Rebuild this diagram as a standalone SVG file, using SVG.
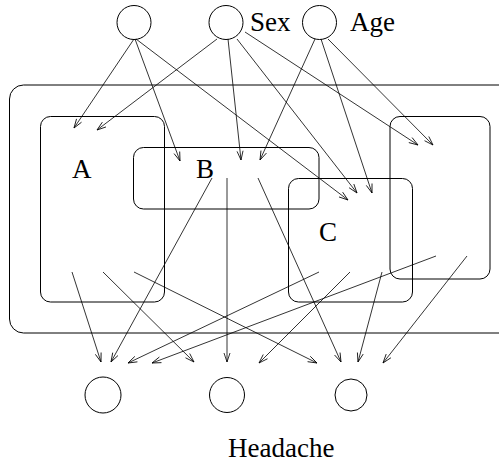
<svg xmlns="http://www.w3.org/2000/svg" width="499" height="462" viewBox="0 0 499 462">
<style>
.n{fill:none;stroke:#000;stroke-width:1}
.b{fill:none;stroke:#000;stroke-width:1}
.e{fill:none;stroke:#000;stroke-width:0.8;marker-end:url(#ah)}
.t{font-family:"Liberation Serif","Times New Roman",serif;font-size:27px;fill:#000}
</style>
<defs>
<marker id="ah" markerUnits="userSpaceOnUse" markerWidth="12" markerHeight="10" viewBox="-10 -5 12 10" refX="0" refY="0" orient="auto">
<path d="M-9,-3 L0,0 L-9,3" fill="none" stroke="#000" stroke-width="0.8"/>
</marker>
</defs>
<rect width="499" height="462" fill="#fff"/>
<g id="outer"><rect class="b" x="9.5" y="85" width="510" height="248" rx="14"/></g>
<g id="A"><rect class="b" x="40.5" y="116.5" width="124" height="185.5" rx="10"/><text class="t" x="72" y="178">A</text></g>
<g id="B"><rect class="b" x="133.5" y="147.5" width="185.5" height="61.5" rx="10"/><text class="t" x="196" y="178">B</text></g>
<g id="C"><rect class="b" x="288.5" y="178.5" width="124" height="123.5" rx="10"/><text class="t" x="319" y="241">C</text></g>
<g id="D"><rect class="b" x="390" y="116.5" width="100" height="162.5" rx="10"/></g>
<g id="top1"><circle class="n" cx="134" cy="22.5" r="17"/></g>
<g id="sex"><circle class="n" cx="226" cy="22.5" r="17"/><text class="t" x="250" y="31">Sex</text></g>
<g id="age"><circle class="n" cx="319.5" cy="22.5" r="17"/><text class="t" x="350" y="31">Age</text></g>
<g id="h1"><circle class="n" cx="103" cy="395" r="18"/></g>
<g id="h2"><circle class="n" cx="227" cy="395" r="17.5"/><text class="t" x="228" y="457">Headache</text></g>
<g id="h3"><circle class="n" cx="351" cy="395" r="16"/></g>
<g id="connectors">
<line class="e" x1="134" y1="39" x2="74" y2="128"/>
<line class="e" x1="135" y1="39" x2="180" y2="161"/>
<line class="e" x1="136" y1="39" x2="348" y2="200"/>
<line class="e" x1="217" y1="39" x2="97" y2="130"/>
<line class="e" x1="228" y1="39" x2="241" y2="160"/>
<line class="e" x1="237" y1="39" x2="357" y2="193"/>
<line class="e" x1="245" y1="32" x2="418" y2="145"/>
<line class="e" x1="315" y1="39" x2="260" y2="160"/>
<line class="e" x1="321" y1="39" x2="372" y2="193"/>
<line class="e" x1="328" y1="39" x2="433" y2="145"/>
<line class="e" x1="72" y1="272" x2="101" y2="362"/>
<line class="e" x1="103" y1="272" x2="194" y2="362"/>
<line class="e" x1="134" y1="272" x2="317" y2="363"/>
<line class="e" x1="212" y1="178" x2="111" y2="362"/>
<line class="e" x1="227" y1="178" x2="227" y2="362"/>
<line class="e" x1="258" y1="178" x2="341" y2="362"/>
<line class="e" x1="319" y1="272" x2="128" y2="363"/>
<line class="e" x1="350" y1="272" x2="259" y2="363"/>
<line class="e" x1="382" y1="272" x2="358" y2="362"/>
<line class="e" x1="436" y1="256" x2="152" y2="363"/>
<line class="e" x1="467" y1="256" x2="383" y2="363"/>
</g>
</svg>
